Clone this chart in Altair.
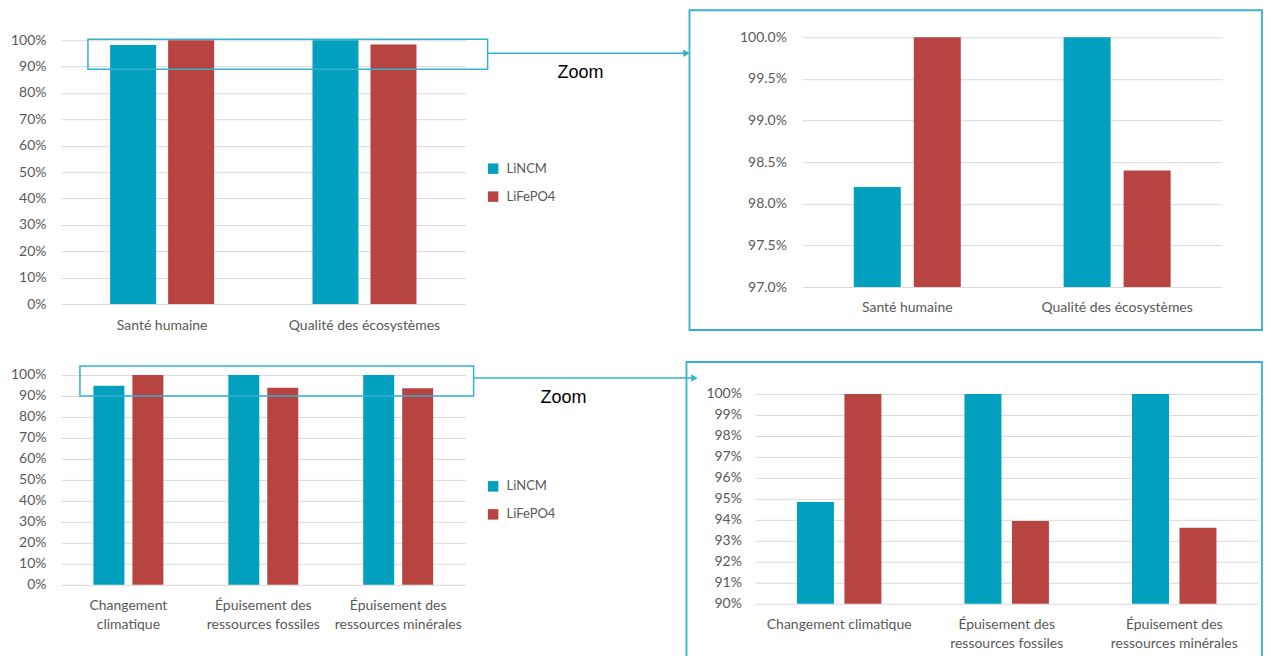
import altair as alt
import pandas as pd

series = ["LiNCM", "LiFePO4"]
colors = ["#00A0BE", "#B84442"]

cat_top = ["Santé humaine", "Qualité des écosystèmes"]
top_lincm = [0.982, 1.000]
top_lifepo4 = [1.000, 0.984]

cat_bot = ["Changement climatique", "Épuisement des ressources fossiles",
           "Épuisement des ressources minérales"]
bot_lincm = [0.9485, 1.000, 1.000]
bot_lifepo4 = [1.000, 0.9395, 0.9362]

ticks_full = [0.0, 0.1, 0.2, 0.3, 0.4, 0.5, 0.6, 0.7, 0.8, 0.9, 1.0]
ticks_top_zoom = [0.970, 0.975, 0.980, 0.985, 0.990, 0.995, 1.000]
ticks_bot_zoom = [0.90, 0.91, 0.92, 0.93, 0.94, 0.95, 0.96, 0.97, 0.98, 0.99, 1.00]

labels_bot_left = {
    "Changement climatique": ["Changement", "climatique"],
    "Épuisement des ressources fossiles": ["Épuisement des", "ressources fossiles"],
    "Épuisement des ressources minérales": ["Épuisement des", "ressources minérales"],
}
labels_bot_right = {
    "Changement climatique": ["Changement climatique"],
    "Épuisement des ressources fossiles": ["Épuisement des", "ressources fossiles"],
    "Épuisement des ressources minérales": ["Épuisement des", "ressources minérales"],
}

FONT = "Lato"
TXT = "#595959"
GRID = "#D9D9D9"
BOX = "#35B0CF"


def frame(cats, a, b):
    rows = []
    for c, va, vb in zip(cats, a, b):
        rows.append({"Catégorie": c, "Série": series[0], "Valeur": va})
        rows.append({"Catégorie": c, "Série": series[1], "Valeur": vb})
    return pd.DataFrame(rows)


def label_expr(mapping):
    if mapping is None:
        return None
    expr = "datum.value"
    for k, lines in reversed(list(mapping.items())):
        arr = "[" + ",".join("'" + l + "'" for l in lines) + "]"
        expr = f"datum.value === '{k}' ? {arr} : ({expr})"
    return expr


def bars(df, cats, domain, ticks, fmt, pad, pad_off, ylabpad, legend, mapping=None, xlabpad=14):
    xaxis = dict(title=None, labelAngle=0, ticks=False, domain=False, labelPadding=xlabpad,
                 labelFontSize=14, labelColor=TXT, labelFont=FONT, labelLineHeight=19,
                 labelOverlap=False, labelLimit=400)
    le = label_expr(mapping)
    if le:
        xaxis["labelExpr"] = le
    return alt.Chart(df).mark_bar().encode(
        x=alt.X("Catégorie:N", sort=cats,
                scale=alt.Scale(paddingInner=pad, paddingOuter=pad / 2),
                axis=alt.Axis(**xaxis)),
        xOffset=alt.XOffset("Série:N", sort=series,
                            scale=alt.Scale(domain=series, paddingInner=pad_off, paddingOuter=0)),
        y=alt.Y("Valeur:Q", scale=alt.Scale(domain=domain, nice=False, zero=False),
                axis=alt.Axis(values=ticks, format=fmt, title=None, ticks=False, domain=False,
                              gridColor=GRID, labelPadding=ylabpad, labelFontSize=14,
                              labelColor=TXT, labelFont=FONT)),
        y2=alt.datum(domain[0]),
        color=alt.Color("Série:N", scale=alt.Scale(domain=series, range=colors), legend=legend),
    )


def one():
    return alt.Chart(pd.DataFrame({"a": [0]}))


def legend_at(y):
    return alt.Legend(orient="none", legendX=426, legendY=y, title=None, direction="vertical",
                      symbolType="square", symbolSize=110, symbolStrokeWidth=0,
                      labelFontSize=13, labelColor=TXT, labelFont=FONT, rowPadding=14,
                      labelOffset=7, padding=0)


def zoom_marks(rx1, rx2, ry1, ry2, ay, ax2, tx, ty):
    rect = one().mark_rect(filled=False, stroke=BOX, strokeWidth=1.5).encode(
        x=alt.value(rx1), x2=alt.value(rx2), y=alt.value(ry1), y2=alt.value(ry2))
    rule = one().mark_rule(color=BOX, strokeWidth=1.5).encode(
        x=alt.value(rx2), x2=alt.value(ax2 - 4), y=alt.value(ay))
    head = one().mark_point(shape="triangle-right", filled=True, size=55, color=BOX,
                            opacity=1).encode(x=alt.value(ax2 - 3), y=alt.value(ay))
    txt = one().mark_text(text="Zoom", fontSize=18, font="Liberation Sans", color="black",
                          align="center", baseline="middle").encode(
        x=alt.value(tx), y=alt.value(ty))
    return [rect, rule, head, txt]


def box(x1, x2, y1, y2):
    return one().mark_rect(filled=False, stroke=BOX, strokeWidth=1.8).encode(
        x=alt.value(x1), x2=alt.value(x2), y=alt.value(y1), y2=alt.value(y2))


df_top = frame(cat_top, top_lincm, top_lifepo4)
df_bot = frame(cat_bot, bot_lincm, bot_lifepo4)

# top-left: plot at x 60..465, y 37..304 (0% at 304, 100% at 40)
tl = alt.layer(
    bars(df_top, cat_top, [0.0, 1.01136], ticks_full, ".0%", 0.486, 0.207, 15, legend_at(125)),
    *zoom_marks(27, 427, 2, 32, 16, 629, 520, 36),
).properties(width=405, height=267)

# top-right: plot at x 802..1222, y 37..287
tr = alt.layer(
    box(-113, 460, -27, 293),
    bars(df_top, cat_top, [0.97, 1.0], ticks_top_zoom, ".1%", 0.49, 0.2167, 16, None,
         xlabpad=13),
).properties(width=420, height=250)

# bottom-left: plot at x 60..465, y 375..585
bl = alt.layer(
    bars(df_bot, cat_bot, [0.0, 1.0], ticks_full, ".0%", 0.4815, 0.205, 15, legend_at(105),
         labels_bot_left),
    *zoom_marks(19, 413, -9, 21, 3, 637, 503, 23),
).properties(width=405, height=210)

# bottom-right: plot at x 755..1258, y 375..604 (90% at 604, 100% at 394)
br = alt.layer(
    box(-69, 507, -13, 300),
    bars(df_bot, cat_bot, [0.90, 1.00905], ticks_bot_zoom, ".0%", 0.496, 0.221, 14, None,
         labels_bot_right),
).properties(width=503, height=229)

res = dict(color="independent", xOffset="independent")
row1 = alt.hconcat(tl, tr, spacing=337, bounds="flush").resolve_scale(**res)
row2 = alt.hconcat(bl, br, spacing=290, bounds="flush").resolve_scale(**res)

chart = alt.vconcat(row1, row2, spacing=29).resolve_scale(**res).properties(
    padding={"left": 2, "top": 1, "right": 0, "bottom": 0},
    background="white",
).configure_view(stroke=None)

chart.save("out.html", embed_options={"renderer": "svg", "actions": False})
